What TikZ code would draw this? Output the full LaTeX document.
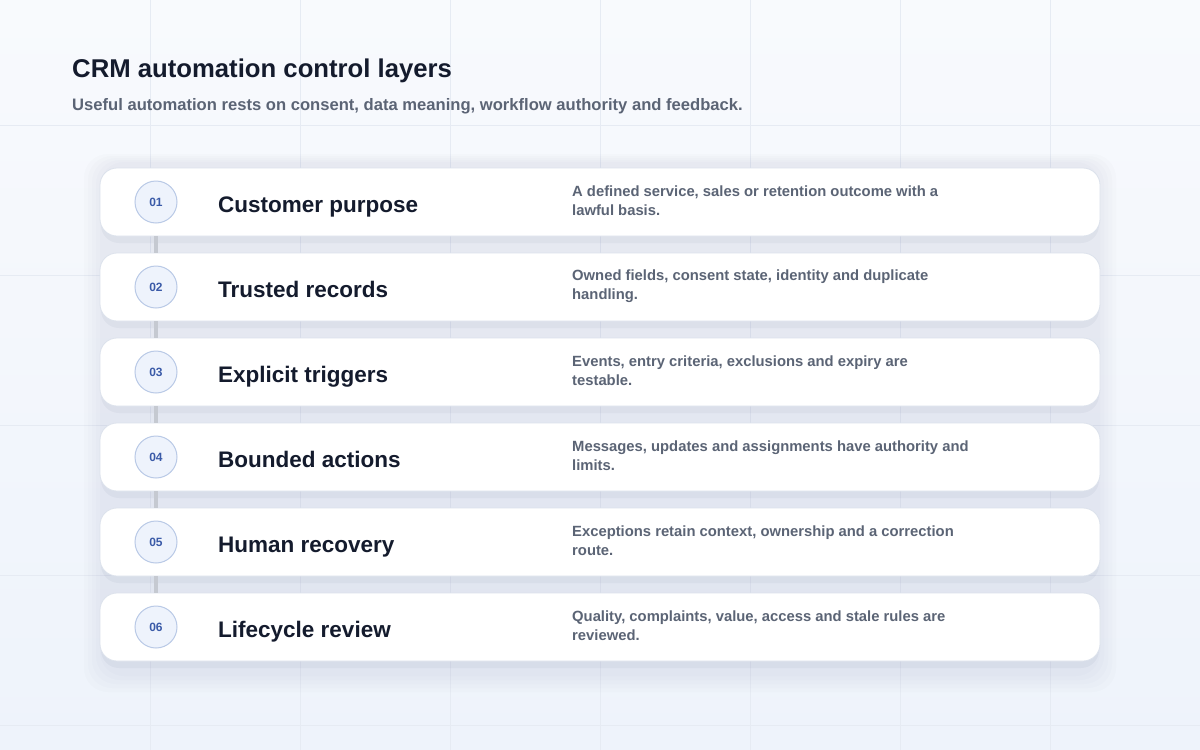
\documentclass[tikz,border=0pt]{standalone}
\usepackage{fontspec}
\setmainfont{Liberation Sans}
\usetikzlibrary{positioning}
\definecolor{bgtop}{HTML}{F8FAFD}
\definecolor{bgbot}{HTML}{EEF3FB}
\definecolor{gridln}{HTML}{E6EBF3}
\definecolor{inkdark}{HTML}{141B2D}
\definecolor{inkgray}{HTML}{5B6475}
\definecolor{cardedge}{HTML}{DCE2EC}
\definecolor{badgefill}{HTML}{EEF3FC}
\definecolor{badgeedge}{HTML}{B9C9E6}
\definecolor{badgeink}{HTML}{3A5AA8}
\definecolor{linkgray}{HTML}{C5C9D1}
\definecolor{shadowink}{HTML}{42507A}
\tikzset{
  layercard/.style={draw=cardedge, line width=0.8pt, fill=white, rounded corners=17pt,
    minimum width=1000pt, minimum height=68pt, inner sep=0pt},
  badge/.style={circle, draw=badgeedge, line width=1pt, fill=badgefill, minimum size=42pt,
    inner sep=0pt, text=badgeink, font=\fontsize{12}{12}\selectfont\bfseries},
  layertitle/.style={anchor=base west, inner sep=0pt, text=inkdark, font=\fontsize{22.5}{26}\selectfont\bfseries},
  layernote/.style={anchor=west, inner sep=0pt, text=inkgray, align=left,
    font=\fontsize{14.8}{19}\selectfont\bfseries},
  link/.style={draw=linkgray, line width=3.5pt}
}
\begin{document}
\begin{tikzpicture}[x=1pt,y=-1pt]
  \useasboundingbox (0,0) rectangle (1200,750);
  \shade[top color=bgtop, bottom color=bgbot] (0,0) rectangle (1200,750);
  \foreach \gx in {150,300,...,1050} \draw[gridln, line width=0.6pt] (\gx,0) -- (\gx,750);
  \foreach \gy in {125,275,...,725} \draw[gridln, line width=0.6pt] (0,\gy) -- (1200,\gy);
  % soft shade behind the stack
  \foreach \s in {0,4,...,16}
    \fill[shadowink, opacity=0.014, rounded corners=24pt] ({100-\s},{162-\s/2}) rectangle ({1100+\s},{676+\s});

  \node[anchor=base west, inner sep=0pt, text=inkdark, font=\fontsize{25.7}{30}\selectfont\bfseries]
    (title) at (72,77) {CRM automation control layers};
  \node[anchor=base west, inner sep=0pt, text=inkgray, font=\fontsize{16.6}{19}\selectfont\bfseries]
    (subtitle) at (72,110) {Useful automation rests on consent, data meaning, workflow authority and feedback.};

  % layers
  \foreach \i/\name/\note in {
    1/Customer purpose/{A defined service, sales or retention outcome with a\\lawful basis.},
    2/Trusted records/{Owned fields, consent state, identity and duplicate\\handling.},
    3/Explicit triggers/{Events, entry criteria, exclusions and expiry are\\testable.},
    4/Bounded actions/{Messages, updates and assignments have authority and\\limits.},
    5/Human recovery/{Exceptions retain context, ownership and a correction\\route.},
    6/Lifecycle review/{Quality, complaints, value, access and stale rules are\\reviewed.}}{
    \fill[shadowink, opacity=0.05, rounded corners=18pt]
      (101,{171+85*(\i-1)}) rectangle (1099,{243+85*(\i-1)});
    \node[layercard] (card\i) at (600,{202+85*(\i-1)}) {};
    \node[badge] (badge\i) at (156,{202+85*(\i-1)}) {0\i};
    \node[layertitle] (name\i) at (218,{212+85*(\i-1)}) {\name};
    \node[layernote] (note\i) at (572,{201+85*(\i-1)}) {\note};
  }
  \foreach \i [evaluate=\i as \j using int(\i+1)] in {1,...,5}
    \draw[link] (badge\i |- card\i.south) -- (badge\j |- card\j.north);
\end{tikzpicture}
\end{document}
